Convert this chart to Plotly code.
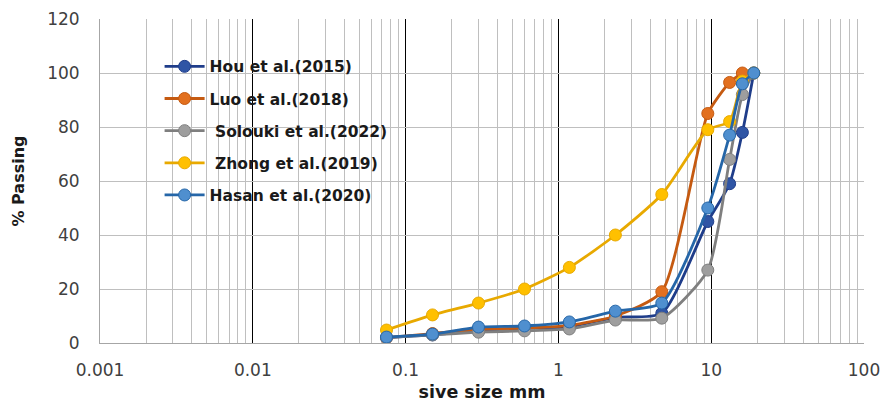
import plotly.graph_objects as go

sieve = [0.075, 0.15, 0.3, 0.6, 1.18, 2.36, 4.75, 9.5, 13.2, 16, 19]

hou = [2, 3, 4.5, 5.5, 6, 9.5, 11, 45, 59, 78, 100]
luo = [2, 3.5, 5, 5.5, 6.5, 10, 19, 85, 96.5, 100]
solouki = [2, 3, 4, 4.5, 5.2, 8.5, 9.2, 27, 68, 92, 100]
zhong = [4.8, 10.4, 14.8, 20, 28, 40, 55, 79, 82, 97, 100]
hasan = [2.2, 3.3, 5.9, 6.3, 7.8, 11.8, 14.8, 50, 77, 96, 100]

names = ["Hou et al.(2015)", "Luo et al.(2018)", " Solouki et al.(2022)",
         " Zhong et al.(2019)", "Hasan et al.(2020)"]
series = [hou, luo, solouki, zhong, hasan]
line_colors = ["#1F3D8A", "#C55A11", "#7F7F7F", "#E8A900", "#2566A8"]
marker_colors = ["#2F55A5", "#E2701F", "#9E9E9E", "#FFC000", "#4F8FCF"]

x_tickvals = [0.001, 0.01, 0.1, 1, 10, 100]
x_ticktext = ["0.001", "0.01", "0.1", "1", "10", "100"]

fig = go.Figure()
for i, (nm, ys) in enumerate(zip(names, series)):
    fig.add_trace(go.Scatter(
        x=sieve[:len(ys)], y=ys, name="<b>" + nm + "</b>", mode="lines+markers",
        line=dict(color=line_colors[i], width=2.8, shape="spline", smoothing=0.6),
        marker=dict(size=12, color=marker_colors[i],
                    line=dict(color=line_colors[i], width=1)),
        legendgroup=f"g{i}",
    ))

font_family = "'DejaVu Sans', sans-serif"
fig.update_layout(
    width=882, height=402,
    margin=dict(l=100, r=18, t=19, b=59, autoexpand=False),
    paper_bgcolor="white", plot_bgcolor="white",
    font=dict(family=font_family, size=17, color="#404040"),
    showlegend=True,
    legend=dict(
        x=0.078, y=0.905, xanchor="left", yanchor="top",
        bgcolor="rgba(0,0,0,0)",
        font=dict(family=font_family, size=15.5, color="#1a1a1a"),
        tracegroupgap=9, itemwidth=40,
    ),
    xaxis=dict(
        type="log", range=[-3, 2], automargin=False,
        tickmode="array", tickvals=x_tickvals, ticktext=x_ticktext,
        showgrid=True, gridcolor="#000000", gridwidth=1,
        minor=dict(dtick="D1", showgrid=True, gridcolor="#BFBFBF", gridwidth=1),
        showline=True, linecolor="#A6A6A6", linewidth=1,
        ticks="", ticklabelstandoff=12,
        tickfont=dict(size=17, color="#404040"),
        title=dict(text="<b>sive size mm</b>", font=dict(size=17.5, color="#1a1a1a"), standoff=12),
        zeroline=False,
    ),
    yaxis=dict(
        range=[0, 120], dtick=20, automargin=False,
        showgrid=True, gridcolor="#BFBFBF", gridwidth=1,
        showline=True, linecolor="#A6A6A6", linewidth=1,
        ticks="", ticklabelstandoff=16,
        tickfont=dict(size=17, color="#404040"),
        title=dict(text="<b>% Passing</b>", font=dict(size=16, color="#1a1a1a"), standoff=18),
        zeroline=False,
    ),
)

fig.write_html("out.html", post_script="document.body.style.margin='0';",
               config={"displayModeBar": False})
